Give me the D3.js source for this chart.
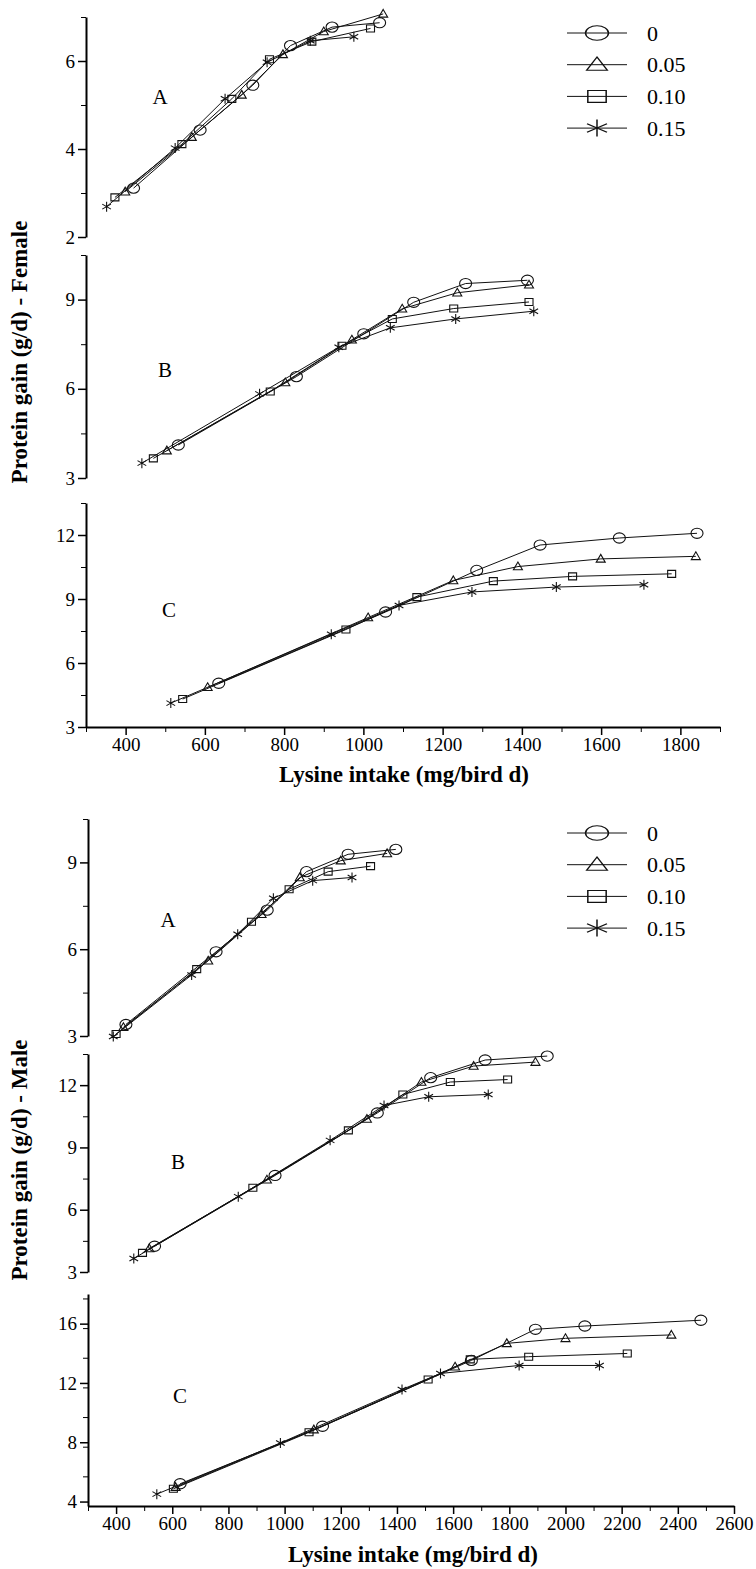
<!DOCTYPE html>
<html>
<head>
<meta charset="utf-8">
<script src="https://cdn.jsdelivr.net/npm/d3@7"></script>
<style>
  body { margin: 0; background: #fff; }
  svg { display: block; }
  .axis text { font-family: "Liberation Serif", "Times New Roman", serif; font-size: 19px; fill: #000; }
  .axis path, .axis line { stroke: #000; }
  .title { font-family: "Liberation Serif", "Times New Roman", serif; font-weight: bold; font-size: 23px; }
  .letter { font-family: "Liberation Serif", "Times New Roman", serif; font-size: 21px; }
  .legend text { font-family: "Liberation Serif", "Times New Roman", serif; font-size: 22px; }
</style>
</head>
<body>
<div id="chart"></div>
<script>
// series order everywhere: 0, 0.05, 0.10, 0.15
const doses = ['0', '0.05', '0.10', '0.15'];
const markers = ['circle', 'triangle', 'square', 'asterisk'];

// Female
const fA_x = [[420, 588, 721, 816, 921, 1041], [399, 567, 693, 797, 900, 1050], [373, 542, 668, 763, 870, 1018], [352, 525, 651, 757, 866, 976]];
const fA_y = [[3.11, 4.43, 5.45, 6.35, 6.77, 6.87], [3.03, 4.27, 5.23, 6.15, 6.67, 7.07], [2.90, 4.11, 5.14, 6.04, 6.44, 6.74], [2.69, 4.02, 5.14, 5.97, 6.46, 6.55]];
const fB_x = [[533, 831, 1001, 1127, 1258, 1414], [504, 803, 971, 1098, 1237, 1418], [470, 765, 946, 1073, 1228, 1418], [441, 738, 938, 1068, 1233, 1430]];
const fB_y = [[4.11, 6.41, 7.85, 8.91, 9.54, 9.65], [3.92, 6.21, 7.65, 8.69, 9.23, 9.50], [3.66, 5.91, 7.45, 8.35, 8.70, 8.92], [3.50, 5.83, 7.40, 8.05, 8.35, 8.61]];
const fC_x = [[635, 1056, 1286, 1446, 1646, 1842], [607, 1012, 1227, 1390, 1599, 1839], [544, 956, 1135, 1328, 1528, 1778], [514, 919, 1090, 1274, 1487, 1708]];
const fC_y = [[5.05, 8.39, 10.34, 11.53, 11.86, 12.08], [4.86, 8.13, 9.87, 10.52, 10.88, 11.00], [4.31, 7.57, 9.09, 9.84, 10.06, 10.18], [4.12, 7.35, 8.70, 9.33, 9.56, 9.67]];

// Male
const mA_x = [[435, 756, 938, 1078, 1226, 1396], [426, 728, 918, 1054, 1200, 1365], [400, 687, 882, 1016, 1155, 1306], [390, 669, 833, 960, 1100, 1240]];
const mA_y = [[3.40, 5.91, 7.35, 8.68, 9.28, 9.45], [3.30, 5.60, 7.21, 8.48, 9.06, 9.31], [3.07, 5.31, 6.95, 8.07, 8.68, 8.87], [2.98, 5.11, 6.52, 7.76, 8.37, 8.48]];
const mB_x = [[537, 966, 1330, 1520, 1714, 1935], [518, 937, 1293, 1487, 1673, 1893], [494, 887, 1227, 1421, 1590, 1794], [463, 835, 1162, 1354, 1513, 1725]];
const mB_y = [[4.24, 7.65, 10.66, 12.36, 13.21, 13.40], [4.13, 7.44, 10.37, 12.15, 12.92, 13.11], [3.92, 7.06, 9.82, 11.55, 12.15, 12.27], [3.65, 6.63, 9.34, 11.02, 11.44, 11.55]];
const mC_x = [[628, 1135, 1665, 1893, 2069, 2482], [612, 1104, 1607, 1791, 2000, 2377], [604, 1087, 1511, 1661, 1869, 2220], [545, 985, 1418, 1555, 1835, 2121]];
const mC_y = [[5.20, 9.08, 13.52, 15.62, 15.84, 16.23], [4.97, 8.85, 13.09, 14.67, 15.01, 15.24], [4.86, 8.67, 12.23, 13.59, 13.77, 13.99], [4.50, 7.95, 11.56, 12.64, 13.18, 13.18]];

// tick labels
const fXticks = [400, 600, 800, 1000, 1200, 1400, 1600, 1800];
const mXticks = [400, 600, 800, 1000, 1200, 1400, 1600, 1800, 2000, 2200, 2400, 2600];
const fA_ticks = [2, 4, 6], fB_ticks = [3, 6, 9], fC_ticks = [3, 6, 9, 12];
const mA_ticks = [3, 6, 9], mB_ticks = [3, 6, 9, 12], mC_ticks = [4, 8, 12, 16];

const W = 756, H = 1569;
const svg = d3.select('#chart').append('svg')
    .attr('width', W).attr('height', H)
    .style('background', '#fff');

const xF = d3.scaleLinear().domain([300, 1900]).range([86, 720]);
const xM = d3.scaleLinear().domain([300, 2600]).range([88, 734]);
const fmt = d => String(d);

function markerPath(type, s) {
    // s = half size
    if (type === 'circle') return `M${-s},0a${s},${s * 0.85} 0 1,0 ${2 * s},0a${s},${s * 0.85} 0 1,0 ${-2 * s},0`;
    if (type === 'square') return `M${-s * 0.8},${-s * 0.7}h${s * 1.6}v${s * 1.4}h${-s * 1.6}Z`;
    if (type === 'triangle') return `M0,${-s * 0.9}L${s * 0.9},${s * 0.65}H${-s * 0.9}Z`;
    // asterisk: vertical + two diagonals
    const a = s * 0.87, b = s * 0.5;
    return `M0,${-s}V${s}M${-a},${-b}L${a},${b}M${-a},${b}L${a},${-b}`;
}

function drawPanel(x, yDomain, yRange, majors, minorStep, xs, ys, letter, letterPos) {
    const y = d3.scaleLinear().domain(yDomain).range(yRange);
    const g = svg.append('g');

    const minors = d3.range(yDomain[0], yDomain[1] + 0.001, minorStep).filter(v => !majors.includes(v) && v >= majors[0]);
    g.append('g').attr('class', 'axis')
        .attr('transform', `translate(${x.range()[0]},0)`)
        .call(d3.axisLeft(y).tickValues(minors).tickSize(5).tickSizeOuter(0).tickFormat(''))
        .call(a => a.select('.domain').attr('stroke-width', 2));
    g.append('g').attr('class', 'axis')
        .attr('transform', `translate(${x.range()[0]},0)`)
        .call(d3.axisLeft(y).tickValues(majors).tickSize(8).tickSizeOuter(0).tickPadding(3).tickFormat(fmt))
        .call(a => a.select('.domain').remove())
        .call(a => a.selectAll('line').attr('stroke-width', 1.5));

    const line = d3.line().x(d => x(d[0])).y(d => y(d[1]));
    xs.forEach((sx, i) => {
        const pts = sx.map((v, j) => [v, ys[i][j]]);
        g.append('path').datum(pts)
            .attr('d', line)
            .attr('fill', 'none').attr('stroke', '#111').attr('stroke-width', 1);
        g.selectAll(null).data(pts).enter().append('path')
            .attr('transform', d => `translate(${x(d[0])},${y(d[1])})`)
            .attr('d', markerPath(markers[i], markers[i] === 'circle' ? 6 : 5))
            .attr('fill', 'none').attr('stroke', '#111').attr('stroke-width', 1.1);
    });

    g.append('text').attr('class', 'letter')
        .attr('x', letterPos[0]).attr('y', letterPos[1])
        .attr('text-anchor', 'middle').attr('dy', '0.35em')
        .text(letter);
    return y;
}

function drawXAxis(x, yPos, ticks) {
    const d = x.domain();
    const minors = d3.range(d[0], d[1] + 1, 100).filter(v => !ticks.includes(v));
    svg.append('g').attr('class', 'axis')
        .attr('transform', `translate(0,${yPos})`)
        .call(d3.axisBottom(x).tickValues(minors).tickSize(5).tickSizeOuter(0).tickFormat(''))
        .call(a => a.select('.domain').attr('stroke-width', 2));
    svg.append('g').attr('class', 'axis')
        .attr('transform', `translate(0,${yPos})`)
        .call(d3.axisBottom(x).tickValues(ticks).tickSize(8).tickSizeOuter(0).tickPadding(3).tickFormat(fmt))
        .call(a => a.select('.domain').remove())
        .call(a => a.selectAll('line').attr('stroke-width', 1.5));
}

function drawLegend(top) {
    const lg = svg.append('g').attr('class', 'legend');
    doses.forEach((d, i) => {
        const cy = top + i * 31.7;
        lg.append('line').attr('x1', 567).attr('x2', 627).attr('y1', cy).attr('y2', cy)
            .attr('stroke', '#111').attr('stroke-width', 1);
        lg.append('path').attr('transform', `translate(597,${cy}) scale(1.35,1)`)
            .attr('d', markerPath(markers[i], 8.5))
            .attr('fill', 'none').attr('stroke', '#111').attr('stroke-width', 1.1);
        lg.append('text').attr('x', 647).attr('y', cy).attr('dy', '0.35em').text(d);
    });
}

// ---- Female figure ----
drawPanel(xF, [2, 7], [237, 17], fA_ticks, 1, fA_x, fA_y, 'A', [160, 97]);
drawPanel(xF, [3, 10.5], [478, 255], fB_ticks, 1.5, fB_x, fB_y, 'B', [165, 370]);
drawPanel(xF, [3, 13.5], [727, 503], fC_ticks, 1.5, fC_x, fC_y, 'C', [169, 610]);
drawXAxis(xF, 727, fXticks);
svg.append('text').attr('class', 'title').attr('x', 404).attr('y', 782)
    .attr('text-anchor', 'middle').text('Lysine intake (mg/bird d)');
svg.append('text').attr('class', 'title')
    .attr('transform', 'translate(27,352) rotate(-90)')
    .attr('text-anchor', 'middle').text('Protein gain (g/d) - Female');
drawLegend(33);

// ---- Male figure ----
drawPanel(xM, [3, 10.5], [1036, 819], mA_ticks, 1.5, mA_x, mA_y, 'A', [168, 920]);
drawPanel(xM, [3, 13.5], [1272, 1054], mB_ticks, 1.5, mB_x, mB_y, 'B', [178, 1162]);
drawPanel(xM, [3.7, 18], [1506, 1294], mC_ticks, 2, mC_x, mC_y, 'C', [180, 1396]);
drawXAxis(xM, 1506, mXticks);
svg.append('text').attr('class', 'title').attr('x', 413).attr('y', 1562)
    .attr('text-anchor', 'middle').text('Lysine intake (mg/bird d)');
svg.append('text').attr('class', 'title')
    .attr('transform', 'translate(27,1160) rotate(-90)')
    .attr('text-anchor', 'middle').text('Protein gain (g/d) - Male');
drawLegend(833);
</script>
</body>
</html>
